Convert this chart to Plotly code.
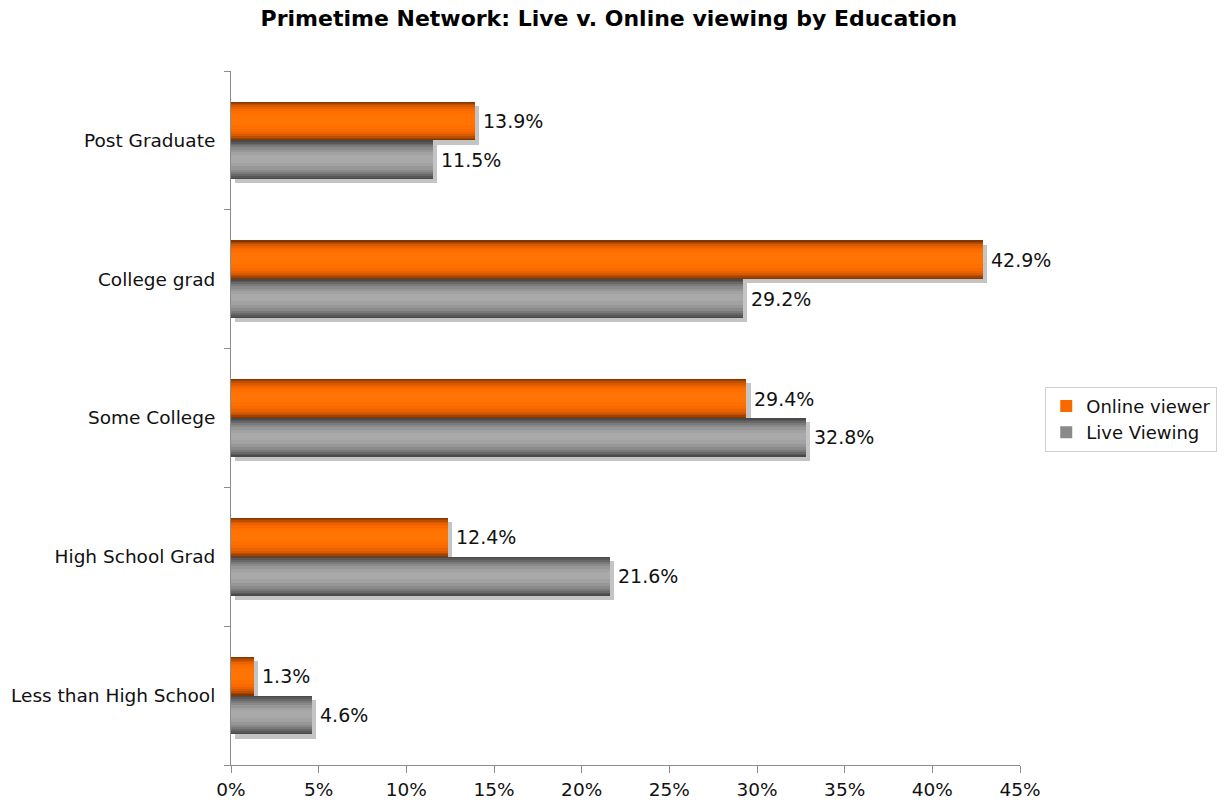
import plotly.graph_objects as go

# Education groups, bottom to top on the chart
categories = ["Less than High School", "High School Grad", "Some College",
              "College grad", "Post Graduate"]
online_viewer = [1.3, 12.4, 29.4, 42.9, 13.9]
live_viewing = [4.6, 21.6, 32.8, 29.2, 11.5]
x_ticks = [0, 5, 10, 15, 20, 25, 30, 35, 40, 45]
x_tick_labels = [f"{t}%" for t in x_ticks]

FONT = "DejaVu Sans, Verdana, sans-serif"
BAR_W = 0.28          # bar thickness in category units
SHADOW_DY = 0.03      # drop shadow offset (down)
SHADOW_DX = 0.23      # drop shadow offset (right, in % units)

# Nested strips (top inset, bottom inset, colour) give the shaded bar look
orange_strips = [
    (0.00, 0.00, "#853600"),
    (0.03, 0.03, "#a04200"),
    (0.06, 0.07, "#bc4e00"),
    (0.10, 0.11, "#d65a00"),
    (0.14, 0.16, "#ea6300"),
    (0.19, 0.22, "#f86a00"),
    (0.25, 0.30, "#ff6f00"),
    (0.32, 0.40, "#ff7404"),
]
gray_strips = [
    (0.00, 0.00, "#4a4a4a"),
    (0.04, 0.04, "#585858"),
    (0.08, 0.08, "#686868"),
    (0.13, 0.13, "#7a7a7a"),
    (0.18, 0.18, "#8a8a8a"),
    (0.24, 0.25, "#979797"),
    (0.31, 0.33, "#a2a2a2"),
    (0.38, 0.43, "#a9a9a9"),
]

ypos = list(range(len(categories)))
series = [
    ("Online viewer", online_viewer, 0.0, orange_strips, 5),
    ("Live Viewing", live_viewing, -BAR_W, gray_strips, 4),
]

fig = go.Figure()

# drop shadows first so every bar sits above them
for name, vals, off, strips, _ in series:
    fig.add_trace(go.Bar(
        y=ypos, x=vals, base=[SHADOW_DX] * len(vals), orientation="h",
        offset=off - SHADOW_DY, width=BAR_W,
        marker=dict(color="#c4c4c4", line=dict(width=0)),
        showlegend=False, hoverinfo="skip",
    ))

for rank, (name, vals, off, strips, legend_idx) in enumerate(series):
    for i, (top, bot, col) in enumerate(strips):
        fig.add_trace(go.Bar(
            y=ypos, x=vals, orientation="h",
            offset=off + bot * BAR_W, width=BAR_W * (1 - top - bot),
            marker=dict(color=col, line=dict(width=0)),
            name=name, showlegend=(i == legend_idx), legendrank=rank + 1,
            hovertemplate=f"{name}: %{{x}}%<extra></extra>",
        ))

# value labels just past the end of each bar
annotations = []
for name, vals, off, strips, _ in series:
    for y, v in zip(ypos, vals):
        annotations.append(dict(
            x=v, y=y + off + BAR_W / 2, xref="x", yref="y",
            text=f"{v}%", showarrow=False, xanchor="left", yanchor="middle",
            xshift=6, font=dict(family=FONT, size=19, color="#111"),
        ))

fig.update_layout(
    width=1225, height=803,
    barmode="overlay",
    paper_bgcolor="white", plot_bgcolor="white",
    margin=dict(l=231, r=205, t=71, b=38, autoexpand=False),
    title=dict(
        text="<b>Primetime Network: Live v. Online viewing by Education</b>",
        x=0.497, xanchor="center", y=0.977, yanchor="middle",
        font=dict(family=FONT, size=22, color="#000"),
    ),
    font=dict(family=FONT, size=18, color="#111"),
    annotations=annotations,
    legend=dict(
        x=1.032, y=0.545, xanchor="left", yanchor="top",
        bordercolor="#d0d0d0", borderwidth=1, bgcolor="white",
        font=dict(family=FONT, size=18, color="#111"),
        traceorder="normal", itemwidth=30, tracegroupgap=0,
    ),
    bargap=0,
)

fig.update_xaxes(
    range=[0, 45], tickvals=x_ticks, ticktext=x_tick_labels,
    showgrid=False, zeroline=False,
    showline=True, linecolor="#8c8c8c", linewidth=1,
    ticks="outside", ticklen=7, tickcolor="#8c8c8c", ticklabelstandoff=1,
    tickfont=dict(family=FONT, size=18.5, color="#111"),
)
fig.update_yaxes(
    range=[-0.5, 4.5], tickvals=ypos, ticktext=categories,
    showgrid=False, zeroline=False,
    showline=True, linecolor="#8c8c8c", linewidth=1,
    ticks="", ticklabelstandoff=11,
    minor=dict(tick0=0.5, dtick=1, ticks="outside", ticklen=6,
               tickcolor="#8c8c8c", showgrid=False),
    tickfont=dict(family=FONT, size=18.5, color="#111"),
)

fig.write_html("out.html")
